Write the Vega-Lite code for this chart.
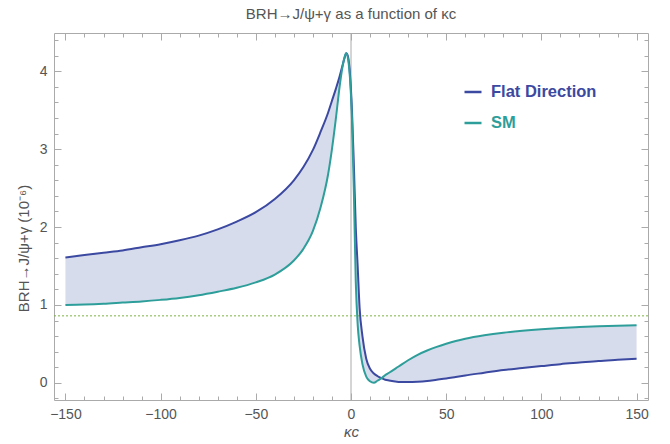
{
  "$schema": "https://vega.github.io/schema/vega-lite/v6.json",
  "width": 594,
  "height": 367,
  "autosize": {"type": "none"},
  "padding": {"left": 54, "top": 33, "right": 22, "bottom": 44},
  "title": {"text": "BRH→J/ψ+γ as a function of κc", "fontSize": 15, "fontWeight": "normal", "color": "#555555", "font": "Liberation Sans", "offset": 11, "anchor": "middle"},
  "config": {
    "view": {"stroke": "#aaaaaa", "strokeWidth": 1},
    "axis": {"domain": false, "grid": false, "tickColor": "#aaaaaa", "labelColor": "#555555", "labelFont": "Liberation Sans", "labelFontSize": 14, "titleFont": "Liberation Sans", "titleColor": "#555555", "titleFontWeight": "normal", "titleFontSize": 15}
  },
  "datasets": {
    "curves": [
      {"k": -150, "Flat Direction": 1.61, "SM": 1.0},
      {"k": -140, "Flat Direction": 1.64, "SM": 1.005},
      {"k": -130, "Flat Direction": 1.67, "SM": 1.015},
      {"k": -120, "Flat Direction": 1.70, "SM": 1.03},
      {"k": -110, "Flat Direction": 1.74, "SM": 1.045},
      {"k": -100, "Flat Direction": 1.78, "SM": 1.065},
      {"k": -90, "Flat Direction": 1.83, "SM": 1.09},
      {"k": -80, "Flat Direction": 1.89, "SM": 1.125},
      {"k": -70, "Flat Direction": 1.97, "SM": 1.17},
      {"k": -60, "Flat Direction": 2.07, "SM": 1.22},
      {"k": -50, "Flat Direction": 2.19, "SM": 1.29},
      {"k": -40, "Flat Direction": 2.36, "SM": 1.39},
      {"k": -30, "Flat Direction": 2.6, "SM": 1.57},
      {"k": -25, "Flat Direction": 2.77, "SM": 1.72},
      {"k": -20, "Flat Direction": 2.99, "SM": 1.95},
      {"k": -16, "Flat Direction": 3.22, "SM": 2.25},
      {"k": -12, "Flat Direction": 3.47, "SM": 2.68},
      {"k": -10, "Flat Direction": 3.62, "SM": 3.0},
      {"k": -8, "Flat Direction": 3.77, "SM": 3.38},
      {"k": -6, "Flat Direction": 3.93, "SM": 3.8},
      {"k": -4.5, "Flat Direction": 4.07, "SM": 4.05},
      {"k": -3.5, "Flat Direction": 4.16, "SM": 4.17},
      {"k": -2.5, "Flat Direction": 4.23, "SM": 4.23},
      {"k": -1.5, "Flat Direction": 4.18, "SM": 4.15},
      {"k": -0.5, "Flat Direction": 3.95, "SM": 3.9},
      {"k": 0.5, "Flat Direction": 3.5, "SM": 3.4},
      {"k": 1.5, "Flat Direction": 2.8, "SM": 2.45},
      {"k": 2.5, "Flat Direction": 2.0, "SM": 1.3},
      {"k": 3.5, "Flat Direction": 1.5, "SM": 0.75},
      {"k": 4.5, "Flat Direction": 0.97, "SM": 0.48},
      {"k": 6, "Flat Direction": 0.6, "SM": 0.24},
      {"k": 8, "Flat Direction": 0.31, "SM": 0.08},
      {"k": 10, "Flat Direction": 0.18, "SM": 0.02},
      {"k": 12, "Flat Direction": 0.12, "SM": 0.0},
      {"k": 14, "Flat Direction": 0.085, "SM": 0.03},
      {"k": 16, "Flat Direction": 0.06, "SM": 0.06},
      {"k": 18, "Flat Direction": 0.04, "SM": 0.1},
      {"k": 20, "Flat Direction": 0.03, "SM": 0.13},
      {"k": 25, "Flat Direction": 0.012, "SM": 0.21},
      {"k": 30, "Flat Direction": 0.01, "SM": 0.29},
      {"k": 35, "Flat Direction": 0.015, "SM": 0.36},
      {"k": 40, "Flat Direction": 0.025, "SM": 0.415},
      {"k": 45, "Flat Direction": 0.04, "SM": 0.462},
      {"k": 50, "Flat Direction": 0.055, "SM": 0.502},
      {"k": 55, "Flat Direction": 0.075, "SM": 0.537},
      {"k": 60, "Flat Direction": 0.095, "SM": 0.566},
      {"k": 70, "Flat Direction": 0.13, "SM": 0.61},
      {"k": 80, "Flat Direction": 0.165, "SM": 0.643},
      {"k": 90, "Flat Direction": 0.19, "SM": 0.668},
      {"k": 100, "Flat Direction": 0.215, "SM": 0.688},
      {"k": 110, "Flat Direction": 0.24, "SM": 0.704},
      {"k": 120, "Flat Direction": 0.26, "SM": 0.716},
      {"k": 130, "Flat Direction": 0.28, "SM": 0.726},
      {"k": 140, "Flat Direction": 0.295, "SM": 0.734},
      {"k": 150, "Flat Direction": 0.31, "SM": 0.74}
    ],
    "refs": [{"level": 0.86, "zero": 0}]
  },
  "data": {"name": "curves"},
  "resolve": {"axis": {"x": "independent", "y": "independent"}},
  "layer": [
    {
      "mark": {"type": "area", "interpolate": "monotone", "color": "#D7DCEC"},
      "encoding": {
        "x": {"field": "k", "type": "quantitative", "scale": {"domain": [-156, 156], "nice": false, "zero": false},
              "axis": {"orient": "bottom", "values": [-150, -100, -50, 0, 50, 100, 150], "tickSize": -7, "labelPadding": 14, "title": "κc", "titleFontStyle": "italic", "titlePadding": 3}},
        "y": {"field": "Flat Direction", "type": "quantitative", "scale": {"domain": [-0.22, 4.49], "nice": false, "zero": false},
              "axis": {"orient": "left", "values": [0, 1, 2, 3, 4], "tickSize": -7, "labelPadding": 14, "title": "BRH→J/ψ+γ (10⁻⁶)", "titlePadding": 8, "titleY": 215}},
        "y2": {"field": "SM"}
      }
    },
    {
      "mark": {"type": "point", "opacity": 0},
      "encoding": {
        "x": {"field": "k", "type": "quantitative",
              "axis": {"orient": "bottom", "values": [-150, -140, -130, -120, -110, -100, -90, -80, -70, -60, -50, -40, -30, -20, -10, 0, 10, 20, 30, 40, 50, 60, 70, 80, 90, 100, 110, 120, 130, 140, 150], "tickSize": -4, "labels": false, "title": null}},
        "y": {"field": "SM", "type": "quantitative",
              "axis": {"orient": "left", "values": [-0.2, 0, 0.2, 0.4, 0.6, 0.8, 1, 1.2, 1.4, 1.6, 1.8, 2, 2.2, 2.4, 2.6, 2.8, 3, 3.2, 3.4, 3.6, 3.8, 4, 4.2, 4.4], "tickSize": -4, "labels": false, "title": null}}
      }
    },
    {
      "mark": {"type": "point", "opacity": 0},
      "encoding": {
        "x": {"field": "k", "type": "quantitative",
              "axis": {"orient": "top", "values": [-150, -140, -130, -120, -110, -100, -90, -80, -70, -60, -50, -40, -30, -20, -10, 0, 10, 20, 30, 40, 50, 60, 70, 80, 90, 100, 110, 120, 130, 140, 150], "tickSize": -4, "labels": false, "title": null}},
        "y": {"field": "SM", "type": "quantitative",
              "axis": {"orient": "right", "values": [-0.2, 0, 0.2, 0.4, 0.6, 0.8, 1, 1.2, 1.4, 1.6, 1.8, 2, 2.2, 2.4, 2.6, 2.8, 3, 3.2, 3.4, 3.6, 3.8, 4, 4.2, 4.4], "tickSize": -4, "labels": false, "title": null}}
      }
    },
    {
      "data": {"name": "refs"},
      "mark": {"type": "rule", "color": "#aaaaaa", "strokeWidth": 1},
      "encoding": {"x": {"field": "zero", "type": "quantitative", "axis": null}}
    },
    {
      "data": {"name": "refs"},
      "mark": {"type": "rule", "color": "#7CB342", "strokeWidth": 1, "strokeDash": [2, 2]},
      "encoding": {"y": {"field": "level", "type": "quantitative", "axis": null}}
    },
    {
      "transform": [{"fold": ["Flat Direction", "SM"], "as": ["series", "value"]}],
      "mark": {"type": "line", "interpolate": "monotone", "strokeWidth": 2},
      "encoding": {
        "x": {"field": "k", "type": "quantitative",
              "axis": {"orient": "top", "values": [-150, -100, -50, 0, 50, 100, 150], "tickSize": -7, "labels": false, "title": null}},
        "y": {"field": "value", "type": "quantitative",
              "axis": {"orient": "right", "values": [0, 1, 2, 3, 4], "tickSize": -7, "labels": false, "title": null}},
        "color": {"field": "series", "type": "nominal",
                  "scale": {"domain": ["Flat Direction", "SM"], "range": ["#3B49A1", "#2E9E9A"]},
                  "legend": {"orient": "none", "legendX": 409, "legendY": 49, "title": null, "padding": 0,
                             "symbolType": "stroke", "symbolStrokeWidth": 2.5, "symbolSize": 289,
                             "labelFont": "Liberation Sans", "labelFontSize": 16.5, "labelFontWeight": "bold", "labelOffset": 8, "rowPadding": 12,
                             "encode": {"labels": {"update": {"fill": {"signal": "datum.label === 'SM' ? '#2E9E9A' : '#3B49A1'"}}}}}}
      }
    }
  ]
}
